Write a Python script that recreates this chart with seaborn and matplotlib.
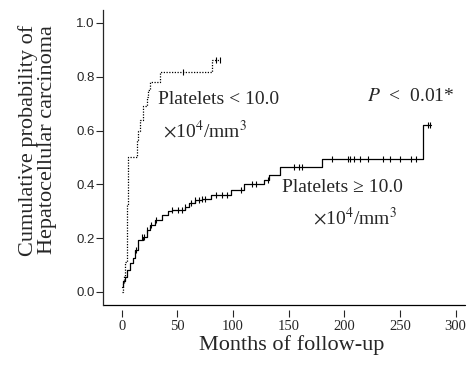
import numpy as np
import pandas as pd
import matplotlib
matplotlib.use("Agg")
import matplotlib.pyplot as plt
import seaborn as sns

# step points of the cumulative incidence curves (months, probability)
low_t = [0, 1, 2, 3, 4.5, 6, 13.8, 15, 16.4, 19.4, 22.4, 24, 25.4, 34.4, 80.8, 88.3]
low_p = [0.0, 0.03, 0.06, 0.11, 0.325, 0.50, 0.565, 0.60, 0.64, 0.69, 0.726, 0.75, 0.78,
         0.819, 0.862, 0.862]
high_t = [0, 1, 3, 5, 7.4, 10.5, 12, 15, 19.4, 22.4, 25.4, 30, 36, 42, 45, 57, 60, 66, 72,
          80, 98, 110, 128, 132, 142, 180, 271, 278]
high_p = [0.02, 0.04, 0.057, 0.08, 0.108, 0.126, 0.156, 0.193, 0.205, 0.23, 0.25, 0.268,
          0.286, 0.30, 0.305, 0.315, 0.33, 0.34, 0.345, 0.36, 0.38, 0.40, 0.415, 0.435,
          0.465, 0.495, 0.62, 0.62]

# censored observations
low_cens_t = [55, 85, 88]
low_cens_p = [0.819, 0.862, 0.862]
high_cens_t = [13, 18, 20, 23, 26, 31, 45, 51, 54, 57, 62, 66, 69, 72, 75, 85, 90, 95, 107,
               117, 121, 131, 155, 159, 162, 189, 203, 205, 209, 214, 221, 235, 241, 250,
               260, 264, 275, 277]
high_cens_p = [0.156, 0.205, 0.205, 0.23, 0.25, 0.268, 0.305, 0.305, 0.305, 0.315, 0.33,
               0.34, 0.34, 0.345, 0.345, 0.36, 0.36, 0.36, 0.38, 0.40, 0.40, 0.415, 0.465,
               0.465, 0.465, 0.495, 0.495, 0.495, 0.495, 0.495, 0.495, 0.495, 0.495, 0.495,
               0.495, 0.495, 0.62, 0.62]

curves = pd.concat([
    pd.DataFrame({"t": low_t, "p": low_p, "grp": "low"}),
    pd.DataFrame({"t": high_t, "p": high_p, "grp": "high"}),
])
cens = pd.concat([
    pd.DataFrame({"t": low_cens_t, "p": low_cens_p}),
    pd.DataFrame({"t": high_cens_t, "p": high_cens_p}),
])

sns.set_style("ticks")
plt.rcParams["font.family"] = ["Liberation Serif", "DejaVu Serif"]
plt.rcParams["mathtext.fontset"] = "stix"

fig = plt.figure(figsize=(4.71, 3.65), dpi=100)
ax = fig.add_axes([0.2187, 0.1507, 0.7686, 0.8219])

sns.lineplot(data=curves, x="t", y="p", style="grp", style_order=["high", "low"],
             dashes={"high": "", "low": (1, 1.2)}, color="black", linewidth=0.9,
             estimator=None, sort=False, drawstyle="steps-post", legend=False, ax=ax)
sns.scatterplot(data=cens, x="t", y="p", marker="|", s=18, color="black",
                linewidth=0.8, legend=False, ax=ax)

ax.set_xlim(-16.8, 308.4)
ax.set_ylim(-0.067, 1.048)
ax.set_xticks(np.arange(0, 301, 50))
ax.set_yticks(np.arange(0, 1.01, 0.2))
ax.set_yticklabels([f"{v:.1f}" for v in np.arange(0, 1.01, 0.2)],
                   family="Liberation Sans", fontsize=9.5)
ax.tick_params(axis="x", labelsize=10.5, length=5, width=0.8, pad=2)
ax.tick_params(axis="y", length=5, width=0.8, pad=1)

sns.despine(ax=ax)
ax.spines["bottom"].set_visible(False)
ax.spines["left"].set_bounds(-0.048, 1.048)
ax.spines["left"].set_linewidth(0.9)
ax.axhline(-0.048, color="black", linewidth=0.9, clip_on=False)

ax.set_xlabel("Months of follow-up", fontsize=16)
ax.xaxis.set_label_coords(0.522, -0.082)
ax.set_ylabel("Cumulative probability of\nHepatocellular carcinoma", fontsize=16,
              linespacing=1.0)
ax.yaxis.set_label_coords(-0.127, 0.567)

ax.text(32.6, 0.714, "Platelets < 10.0", fontsize=14, va="center", ha="left")
ax.text(37, 0.60, r"$\times$10$^4$/mm$^3$", fontsize=14, va="center", ha="left")
ax.text(220, 0.725, r"$\it{P}$  <  0.01*", fontsize=14, va="center", ha="left")
ax.text(144, 0.387, "Platelets ≥ 10.0", fontsize=14, va="center", ha="left")
ax.text(172, 0.275, r"$\times$10$^4$/mm$^3$", fontsize=14, va="center", ha="left")

plt.savefig("out.png", dpi=100)
